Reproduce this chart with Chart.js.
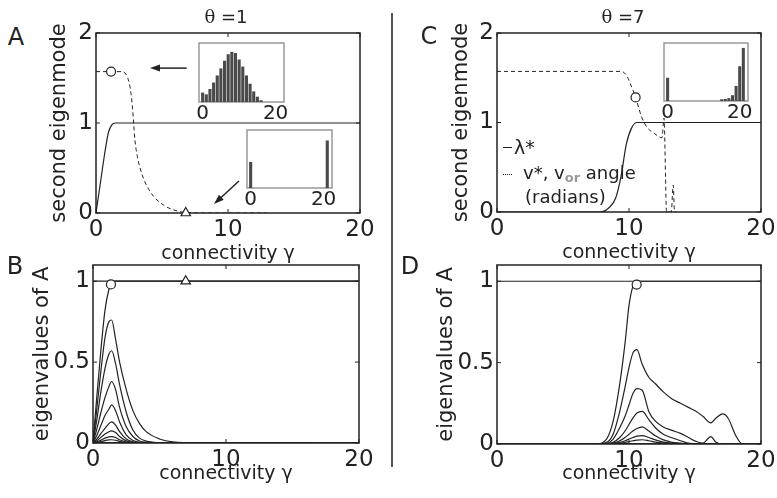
<!DOCTYPE html>
<html>
<head>
<meta charset="utf-8">
<script src="https://cdn.jsdelivr.net/npm/chart.js@4.4.0/dist/chart.umd.min.js"></script>
<style>
  body { margin: 0; background: #fff; width: 777px; height: 498px; position: relative; overflow: hidden; font-family: "DejaVu Sans", sans-serif; color: #222; }
  canvas { position: absolute; }
  .t { position: absolute; white-space: nowrap; line-height: 1; transform: translateY(-50%); }
  .c { transform: translate(-50%, -50%); }
</style>
</head>
<body>
<canvas id="pA"></canvas>
<canvas id="pB"></canvas>
<canvas id="pC"></canvas>
<canvas id="pD"></canvas>
<canvas id="iA1"></canvas>
<canvas id="iA2"></canvas>
<canvas id="iC"></canvas>

<div class="t c" style="left:16px;top:37px;font-size:24px">A</div>
<div class="t c" style="left:15px;top:266px;font-size:24px">B</div>
<div class="t c" style="left:429px;top:36px;font-size:24px">C</div>
<div class="t c" style="left:410px;top:266px;font-size:24px">D</div>
<div class="t c" style="left:226px;top:17px;font-size:18px"><span style="font-family:'DejaVu Serif'">θ</span> =1</div>
<div class="t c" style="left:623px;top:17px;font-size:18px"><span style="font-family:'DejaVu Serif'">θ</span> =7</div>

<div style="position:absolute;left:503px;top:147px;width:9px;border-top:1.2px solid #222"></div>
<div class="t" style="left:514px;top:147px;font-size:19px">λ*</div>
<div style="position:absolute;left:503px;top:174px;width:9px;border-top:1.2px dotted #222"></div>
<div class="t" style="left:523px;top:174px;font-size:18px">v*, v<span style="font-size:13px;color:#999;font-weight:bold;vertical-align:-3px">or</span> angle</div>
<div class="t" style="left:525px;top:197px;font-size:18px">(radians)</div>

<div style="position:absolute;left:391px;top:13px;width:1.5px;height:454px;background:#555"></div>

<script>
const FONT = "DejaVu Sans";
const INK = "#222";
const BAR = "#4a4a4a";

// axis ticks
const xTicks = [0, 10, 20];
const yTicksTop = [0, 1, 2];
const yTicksBottom = [0, 0.5, 1];
const insetTicks = [0, 20];

// panel A: theta = 1
const lamA_x = [0, 0.3, 0.7, 0.95, 1.2, 1.45, 20];
const lamA_y = [0, 0.3, 0.7, 0.9, 0.98, 1, 1];
const vA_x = [0, 1.9, 2.2, 2.45, 2.65, 2.78, 2.85, 2.95, 3.13, 3.46, 4.09, 5.1, 6.36, 7.5, 12.9];
const vA_y = [1.571, 1.571, 1.555, 1.48, 1.33, 1.14, 1.0, 0.81, 0.63, 0.44, 0.24, 0.09, 0.015, 0, 0];
const circA = [{ x: 1.14, y: 1.571 }];
const triA = [{ x: 6.8, y: 0 }];
const arrowsA = [[6.87, 1.61, 4.09, 1.61], [10.83, 0.356, 8.94, 0.1]];

// panel B: eigenvalues, theta = 1
const gB = [0, 0.3, 0.6, 0.9, 1.2, 1.4, 1.7, 2.0, 2.5, 3.0, 3.5, 4.0, 5.0, 6.0, 8.0, 20];
const eigB = [
  [1, 1, 1, 1, 1, 1, 1, 1, 1, 1, 1, 1, 1, 1, 1, 1],
  [0, 0.3, 0.58, 0.82, 0.95, 0.99, 1, 1, 1, 1, 1, 1, 1, 1, 1, 1],
  [0, 0.22, 0.45, 0.65, 0.75, 0.76, 0.64, 0.5, 0.33, 0.2, 0.12, 0.07, 0.025, 0.007, 0.001, 0],
  [0, 0.15, 0.32, 0.46, 0.55, 0.57, 0.49, 0.36, 0.19, 0.08, 0.03, 0.012, 0.002, 0, 0, 0],
  [0, 0.09, 0.19, 0.28, 0.35, 0.38, 0.33, 0.22, 0.1, 0.04, 0.012, 0.004, 0, 0, 0, 0],
  [0, 0.05, 0.11, 0.17, 0.21, 0.235, 0.2, 0.13, 0.05, 0.015, 0.004, 0.001, 0, 0, 0, 0],
  [0, 0.025, 0.06, 0.09, 0.12, 0.13, 0.11, 0.07, 0.025, 0.007, 0.002, 0, 0, 0, 0, 0],
  [0, 0.014, 0.035, 0.055, 0.07, 0.075, 0.065, 0.04, 0.013, 0.003, 0, 0, 0, 0, 0, 0],
  [0, 0.007, 0.018, 0.03, 0.038, 0.04, 0.034, 0.02, 0.006, 0.001, 0, 0, 0, 0, 0, 0],
  [0, 0.003, 0.008, 0.015, 0.019, 0.02, 0.017, 0.01, 0.003, 0, 0, 0, 0, 0, 0, 0]
];
const circB = [{ x: 1.35, y: 0.98 }];
const triB = [{ x: 6.97, y: 1.0 }];

// panel C: theta = 7
const lamC_x = [0, 7.8, 8.5, 9.0, 9.4, 9.8, 10.2, 10.6, 20];
const lamC_y = [0, 0, 0.05, 0.16, 0.4, 0.76, 0.94, 1, 1];
const vC_x = [0, 9.4, 9.8, 10.08, 10.5, 10.96, 11.4, 11.9, 12.5, 12.65, 12.85, 13.2, 13.35, 13.45, 13.6];
const vC_y = [1.571, 1.571, 1.53, 1.44, 1.28, 1.06, 0.94, 0.88, 0.83, 1.05, 0, 0, 0.3, 0, 0];
const circC = [{ x: 10.5, y: 1.28 }];

// panel D: eigenvalues, theta = 7
const gD = [0, 7.5, 8.3, 8.8, 9.3, 9.7, 10.0, 10.3, 10.6, 11.0, 11.5, 12.0, 12.6, 13.2, 13.9, 14.5, 15.1, 15.6, 16.2, 16.6, 17.1, 17.5, 18.1, 18.6, 20];
const eigD = [
  [1, 1, 1, 1, 1, 1, 1, 1, 1, 1, 1, 1, 1, 1, 1, 1, 1, 1, 1, 1, 1, 1, 1, 1, 1],
  [0, 0, 0.03, 0.14, 0.37, 0.62, 0.85, 0.97, 1, 1, 1, 1, 1, 1, 1, 1, 1, 1, 1, 1, 1, 1, 1, 1, 1],
  [0, 0, 0.01, 0.06, 0.2, 0.35, 0.47, 0.56, 0.58, 0.49, 0.41, 0.37, 0.32, 0.28, 0.25, 0.225, 0.2, 0.17, 0.13, 0.16, 0.185, 0.16, 0.05, 0, 0],
  [0, 0, 0.003, 0.03, 0.1, 0.17, 0.24, 0.31, 0.34, 0.33, 0.2, 0.14, 0.105, 0.085, 0.065, 0.04, 0.015, 0.005, 0.045, 0.01, 0, 0, 0, 0, 0],
  [0, 0, 0, 0.01, 0.04, 0.08, 0.12, 0.16, 0.19, 0.2, 0.15, 0.1, 0.06, 0.04, 0.02, 0.005, 0, 0, 0, 0, 0, 0, 0, 0, 0],
  [0, 0, 0, 0.005, 0.02, 0.04, 0.06, 0.08, 0.095, 0.105, 0.08, 0.05, 0.025, 0.012, 0.005, 0, 0, 0, 0, 0, 0, 0, 0, 0, 0],
  [0, 0, 0, 0.002, 0.01, 0.02, 0.03, 0.04, 0.048, 0.052, 0.04, 0.025, 0.012, 0.005, 0.002, 0, 0, 0, 0, 0, 0, 0, 0, 0, 0],
  [0, 0, 0, 0, 0.005, 0.01, 0.015, 0.02, 0.024, 0.026, 0.02, 0.012, 0.006, 0.002, 0, 0, 0, 0, 0, 0, 0, 0, 0, 0, 0]
];
const circD = [{ x: 10.58, y: 0.98 }];

// inset histograms
const histBins = [0, 1, 2, 3, 4, 5, 6, 7, 8, 9, 10, 11, 12, 13, 14, 15, 16, 17, 18, 19, 20, 21];
const histA1 = [0.16, 0.13, 0.22, 0.33, 0.45, 0.57, 0.70, 0.81, 0.85, 0.83, 0.72, 0.60, 0.45, 0.31, 0.18, 0.09, 0.03, 0, 0, 0, 0, 0];
const histA2 = [0.45, 0, 0, 0, 0, 0, 0, 0, 0, 0, 0, 0, 0, 0, 0, 0, 0, 0, 0, 0, 0, 0.82];
const histC = [0.40, 0, 0, 0, 0, 0, 0, 0, 0, 0, 0, 0, 0, 0, 0, 0.03, 0.035, 0.05, 0.1, 0.26, 0.6, 0.915];

function xy(xs, ys) {
  return xs.map((x, i) => ({ x: x, y: ys[i] }));
}

function line(xs, ys, extra) {
  return Object.assign({
    data: xy(xs, ys),
    borderColor: INK,
    borderWidth: 1.2,
    pointRadius: 0,
    cubicInterpolationMode: "monotone",
    fill: false,
    order: 1
  }, extra || {});
}

// markers get a lower order so they are painted over the lines
function marker(pts, style) {
  return {
    data: pts,
    showLine: false,
    pointStyle: style,
    pointRadius: style === "triangle" ? 5.5 : 4.5,
    pointBackgroundColor: "#fff",
    pointBorderColor: INK,
    pointBorderWidth: 1.2,
    clip: false,
    order: 0
  };
}

const frame = {
  id: "frame",
  beforeDatasetsDraw(chart, args, o) {
    const { ctx, chartArea: a, scales } = chart;
    ctx.save();
    if (o.fill) {
      ctx.fillStyle = o.fill;
      ctx.fillRect(a.left, a.top, a.right - a.left, a.bottom - a.top);
    }
    ctx.strokeStyle = o.color;
    ctx.lineWidth = o.width;
    ctx.strokeRect(a.left, a.top, a.right - a.left, a.bottom - a.top);
    if (o.ticks) {
      ctx.lineWidth = 1;
      ctx.beginPath();
      scales.x.ticks.forEach(t => {
        const p = scales.x.getPixelForValue(t.value);
        ctx.moveTo(p, a.top); ctx.lineTo(p, a.top + 4);
        ctx.moveTo(p, a.bottom); ctx.lineTo(p, a.bottom - 4);
      });
      scales.y.ticks.forEach(t => {
        const p = scales.y.getPixelForValue(t.value);
        ctx.moveTo(a.left, p); ctx.lineTo(a.left + 4, p);
        ctx.moveTo(a.right, p); ctx.lineTo(a.right - 4, p);
      });
      ctx.stroke();
    }
    ctx.restore();
  }
};

const arrows = {
  id: "arrows",
  afterDatasetsDraw(chart, args, o) {
    const { ctx, scales: { x, y } } = chart;
    (o.list || []).forEach(ar => {
      const x0 = x.getPixelForValue(ar[0]), y0 = y.getPixelForValue(ar[1]);
      const x1 = x.getPixelForValue(ar[2]), y1 = y.getPixelForValue(ar[3]);
      const ang = Math.atan2(y1 - y0, x1 - x0);
      const c = Math.cos(ang), s = Math.sin(ang);
      ctx.save();
      ctx.strokeStyle = INK;
      ctx.fillStyle = INK;
      ctx.lineWidth = 1.5;
      ctx.beginPath();
      ctx.moveTo(x0, y0);
      ctx.lineTo(x1 - 6 * c, y1 - 6 * s);
      ctx.stroke();
      ctx.beginPath();
      ctx.moveTo(x1, y1);
      ctx.lineTo(x1 - 10 * c + 3.5 * s, y1 - 10 * s - 3.5 * c);
      ctx.lineTo(x1 - 10 * c - 3.5 * s, y1 - 10 * s + 3.5 * c);
      ctx.closePath();
      ctx.fill();
      ctx.restore();
    });
  }
};

function panel(id, cfg) {
  const el = document.getElementById(id);
  const YW = 64, PT = 20, PR = 20, XH = 54;
  const a = cfg.area;
  el.width = YW + (a[2] - a[0]) + PR;
  el.height = PT + (a[3] - a[1]) + XH;
  el.style.left = (a[0] - YW) + "px";
  el.style.top = (a[1] - PT) + "px";

  new Chart(el, {
    type: "line",
    data: { datasets: cfg.datasets },
    options: {
      responsive: false,
      animation: false,
      devicePixelRatio: 1,
      layout: { padding: { left: 0, top: PT, right: PR, bottom: 0 } },
      plugins: {
        legend: { display: false },
        tooltip: { enabled: false },
        frame: { color: INK, width: 1.5, ticks: true },
        arrows: { list: cfg.arrows || [] }
      },
      scales: {
        x: {
          type: "linear",
          min: 0,
          max: 20,
          grid: { display: false, drawTicks: false },
          border: { display: false },
          afterBuildTicks: s => { s.ticks = xTicks.map(v => ({ value: v })); },
          afterFit: s => { s.height = XH; },
          ticks: { font: { family: FONT, size: 23 }, color: INK, padding: 3, autoSkip: false, maxRotation: 0, callback: v => String(v) },
          title: {
            display: true,
            text: "connectivity γ",
            font: { family: FONT, size: 19 },
            color: INK,
            padding: { top: 0, bottom: cfg.xPad }
          }
        },
        y: {
          type: "linear",
          min: 0,
          max: cfg.yMax,
          grid: { display: false, drawTicks: false },
          border: { display: false },
          afterBuildTicks: s => { s.ticks = cfg.yTicks.map(v => ({ value: v })); },
          afterFit: s => { s.width = YW; },
          ticks: { font: { family: FONT, size: 23 }, color: INK, padding: 3, autoSkip: false, callback: v => String(v) },
          title: {
            display: true,
            text: cfg.yTitle,
            font: { family: FONT, size: 21 },
            color: INK,
            padding: { top: cfg.yPad, bottom: 0 }
          }
        }
      }
    },
    plugins: [frame, arrows]
  });
}

function inset(id, box, values) {
  const el = document.getElementById(id);
  const PL = 14, PR = 14, PT = 2, XH = 24;
  el.width = PL + (box[2] - box[0]) + PR;
  el.height = PT + (box[3] - box[1]) + XH;
  el.style.left = (box[0] - PL) + "px";
  el.style.top = (box[1] - PT) + "px";

  new Chart(el, {
    type: "bar",
    data: {
      datasets: [{
        data: xy(histBins, values),
        backgroundColor: BAR,
        borderWidth: 0,
        barPercentage: 0.85,
        categoryPercentage: 1
      }]
    },
    options: {
      responsive: false,
      animation: false,
      devicePixelRatio: 1,
      layout: { padding: { left: PL, right: PR, top: PT, bottom: 0 } },
      plugins: {
        legend: { display: false },
        tooltip: { enabled: false },
        frame: { color: "#999", width: 1.5, fill: "#fff", ticks: false }
      },
      scales: {
        x: {
          type: "linear",
          min: -1,
          max: 22.3,
          offset: false,
          grid: { display: false, drawTicks: false },
          border: { display: false },
          afterBuildTicks: s => { s.ticks = insetTicks.map(v => ({ value: v })); },
          afterFit: s => { s.height = XH; },
          ticks: { font: { family: FONT, size: 20 }, color: INK, padding: 0, autoSkip: false, maxRotation: 0 }
        },
        y: { display: false, min: 0, max: 1 }
      }
    },
    plugins: [frame]
  });
}

panel("pA", {
  area: [96, 33, 360, 213],
  yMax: 2,
  yTicks: yTicksTop,
  yTitle: "second eigenmode",
  yPad: 15,
  xPad: 2,
  arrows: arrowsA,
  datasets: [
    line(lamA_x, lamA_y),
    line(vA_x, vA_y, { borderDash: [4, 3], borderWidth: 1 }),
    marker(circA, "circle"),
    marker(triA, "triangle")
  ]
});

panel("pB", {
  area: [93, 265, 359, 443],
  yMax: 1.1,
  yTicks: yTicksBottom,
  yTitle: "eigenvalues of A",
  yPad: 1,
  xPad: 12,
  datasets: eigB.map(ys => line(gB, ys)).concat([
    line([0, 20], [0, 0], { borderWidth: 2 }),
    marker(circB, "circle"),
    marker(triB, "triangle")
  ])
});

panel("pC", {
  area: [497, 33, 761, 212],
  yMax: 2,
  yTicks: yTicksTop,
  yTitle: "second eigenmode",
  yPad: 16,
  xPad: 2,
  datasets: [
    line(lamC_x, lamC_y),
    line(vC_x, vC_y, { borderDash: [4, 3], borderWidth: 1 }),
    marker(circC, "circle")
  ]
});

panel("pD", {
  area: [497, 265, 761, 444],
  yMax: 1.1,
  yTicks: yTicksBottom,
  yTitle: "eigenvalues of A",
  yPad: 1,
  xPad: 13,
  datasets: eigD.map(ys => line(gD, ys)).concat([
    line([0, 20], [0, 0], { borderWidth: 2 }),
    marker(circD, "circle")
  ])
});

inset("iA1", [199, 43, 284, 102], histA1);
inset("iA2", [247, 130, 332, 188], histA2);
inset("iC", [664, 43, 748, 101], histC);
</script>
</body>
</html>
